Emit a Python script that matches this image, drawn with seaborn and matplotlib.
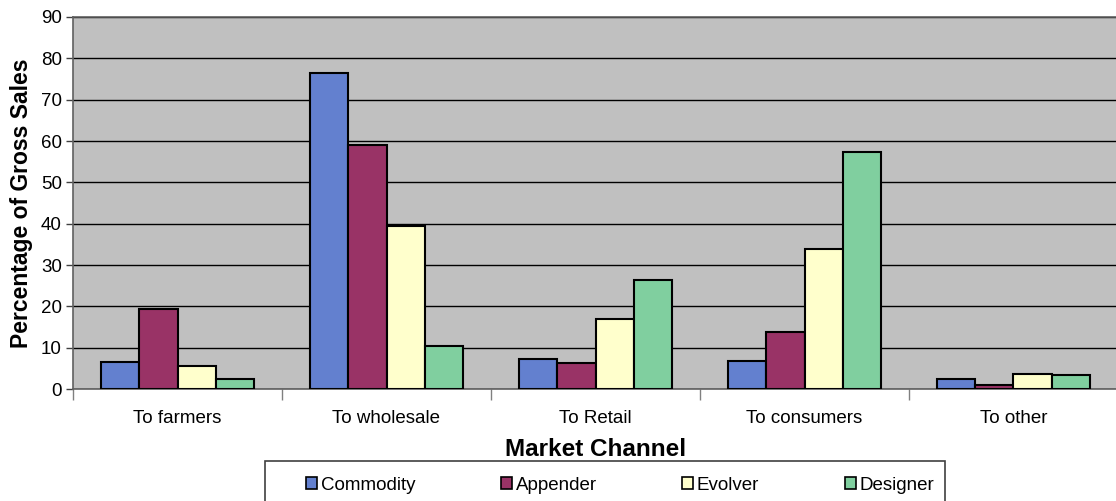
import numpy as np
import pandas as pd
import matplotlib
matplotlib.use("Agg")
import matplotlib.pyplot as plt
from matplotlib.patches import Rectangle
import seaborn as sns

# data
channels = ["To farmers", "To wholesale", "To Retail", "To consumers", "To other"]
groups = ["Commodity", "Appender", "Evolver", "Designer"]
commodity = [6.5, 76.4, 7.3, 6.8, 2.5]
appender = [19.3, 59.0, 6.3, 13.9, 1.0]
evolver = [5.6, 39.4, 16.9, 33.9, 3.7]
designer = [2.3, 10.4, 26.4, 57.3, 3.4]
colors = ["#6380CF", "#993366", "#FFFFCC", "#80CF9F"]

rows = []
for g, vals in zip(groups, [commodity, appender, evolver, designer]):
    for c, v in zip(channels, vals):
        rows.append({"channel": c, "group": g, "value": v})
df = pd.DataFrame(rows)

sns.set_style("white")
plt.rcParams["font.family"] = ["Liberation Sans", "DejaVu Sans"]
plt.rcParams["text.color"] = "black"
plt.rcParams["axes.labelcolor"] = "black"
plt.rcParams["xtick.labelcolor"] = "black"
plt.rcParams["ytick.labelcolor"] = "black"

W, H = 1116, 501
fig = plt.figure(figsize=(W / 100, H / 100), dpi=100)
ax = fig.add_axes([73 / W, 112 / H, 1045 / W, 372 / H])
ax.set_facecolor("#C0C0C0")

sns.barplot(data=df, x="channel", y="value", hue="group", order=channels,
            hue_order=groups, palette=colors, saturation=1, width=0.73,
            edgecolor="black", linewidth=1.5, ax=ax, zorder=3)

ax.set_ylim(0, 90)
ax.set_xlim(-0.5, 4.5)
ax.set_yticks(np.arange(0, 91, 10))
ax.yaxis.grid(True, color="black", linewidth=1, zorder=0)
ax.set_axisbelow(True)

ax.tick_params(axis="x", which="major", length=0, labelsize=13.5, pad=15,
               labelcolor="black")
ax.tick_params(axis="y", which="major", length=5, width=1, labelsize=13.5,
               color="#404040", pad=3, left=True, labelcolor="black")
ax.set_xticks(np.arange(-0.5, 4.6, 1), minor=True)
ax.tick_params(axis="x", which="minor", length=8, width=1, color="#808080",
               bottom=True, direction="out")

for side in ["left", "bottom", "top"]:
    ax.spines[side].set_visible(True)
    ax.spines[side].set_color("#606060")
    ax.spines[side].set_linewidth(1.2)
ax.spines["right"].set_visible(False)

ax.set_xlabel("Market Channel", fontsize=17.5, fontweight="bold", labelpad=8,
              color="black")
ax.set_ylabel("Percentage of Gross Sales", fontsize=16.5, fontweight="bold",
              labelpad=6, color="black")

# legend: entries spread evenly, frame drawn separately (bottom runs off the figure)
handles, labels = ax.get_legend_handles_labels()
ax.get_legend().remove()
leg = fig.legend(handles, labels, loc="upper left", ncol=4, mode="expand",
                 bbox_to_anchor=(302 / W, 0, 636 / W, 28 / H),
                 fontsize=13.5, frameon=False, borderpad=0.2,
                 handlelength=0.6, handleheight=0.6, handletextpad=0.2,
                 borderaxespad=0)
for h in leg.legend_handles:
    h.set_edgecolor("black")
    h.set_linewidth(1.2)
for t in leg.get_texts():
    t.set_color("black")
fig.patches.append(Rectangle((265 / W, -0.05), 680 / W, 0.05 + 40 / H,
                             transform=fig.transFigure, facecolor="white",
                             edgecolor="#404040", linewidth=1.2, zorder=0))

fig.savefig("out.png", dpi=100)
